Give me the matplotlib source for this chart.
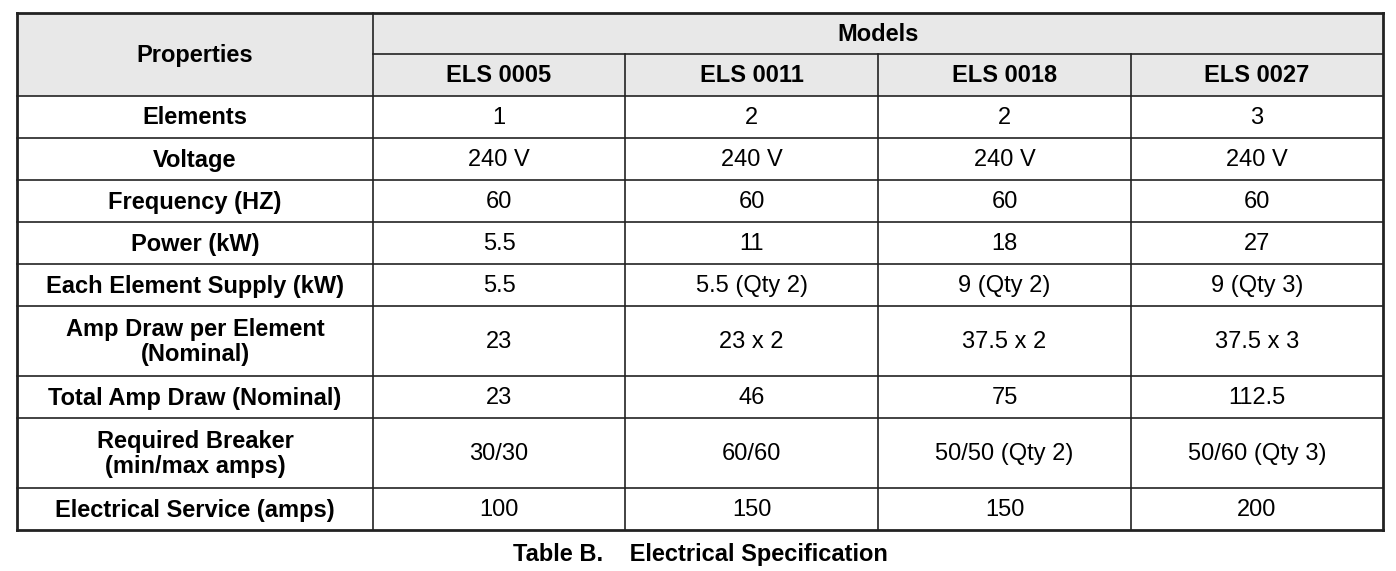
import matplotlib.pyplot as plt

plt.rcParams['font.family'] = ['Liberation Sans', 'DejaVu Sans']

models = ["ELS 0005", "ELS 0011", "ELS 0018", "ELS 0027"]
properties = ["Elements", "Voltage", "Frequency (HZ)", "Power (kW)",
              "Each Element Supply (kW)", "Amp Draw per Element\n(Nominal)",
              "Total Amp Draw (Nominal)", "Required Breaker\n(min/max amps)",
              "Electrical Service (amps)"]
values = [
    ["1", "2", "2", "3"],
    ["240 V", "240 V", "240 V", "240 V"],
    ["60", "60", "60", "60"],
    ["5.5", "11", "18", "27"],
    ["5.5", "5.5 (Qty 2)", "9 (Qty 2)", "9 (Qty 3)"],
    ["23", "23 x 2", "37.5 x 2", "37.5 x 3"],
    ["23", "46", "75", "112.5"],
    ["30/30", "60/60", "50/50 (Qty 2)", "50/60 (Qty 3)"],
    ["100", "150", "150", "200"],
]
caption = "Table B.    Electrical Specification"

# layout in pixels
xs = [17, 373, 625, 878, 1131, 1383]
ys = [13, 54, 96, 138, 180, 222, 264, 306, 376, 418, 488, 530]

fig = plt.figure(figsize=(13.96, 5.71), dpi=100)
ax = fig.add_axes([0, 0, 1, 1])
ax.set_xlim(0, 1396)
ax.set_ylim(571, 0)
ax.axis('off')

fs = 17
ax.fill_between([xs[0], xs[-1]], ys[0], ys[2], color='#e8e8e8', lw=0)

# grid lines
lc = '#222222'
for y in ys:
    if y == ys[1]:
        ax.plot([xs[1], xs[-1]], [y, y], color=lc, lw=1.2)
    else:
        ax.plot([xs[0], xs[-1]], [y, y], color=lc, lw=2 if y in (ys[0], ys[-1]) else 1.2)
for i, x in enumerate(xs):
    if i in (0, 1, len(xs) - 1):
        ax.plot([x, x], [ys[0], ys[-1]], color=lc, lw=2 if i != 1 else 1.2)
    else:
        ax.plot([x, x], [ys[1], ys[-1]], color=lc, lw=1.2)

cx = [(xs[i] + xs[i + 1]) / 2 for i in range(len(xs) - 1)]
ax.text(cx[0], (ys[0] + ys[2]) / 2 + 1, "Properties", ha='center', va='center', fontsize=fs, weight='bold')
ax.text((xs[1] + xs[-1]) / 2, (ys[0] + ys[1]) / 2 + 1, "Models", ha='center', va='center', fontsize=fs, weight='bold')
for j, m in enumerate(models):
    ax.text(cx[j + 1], (ys[1] + ys[2]) / 2 + 1, m, ha='center', va='center', fontsize=fs, weight='bold')

for i, p in enumerate(properties):
    yc = (ys[i + 2] + ys[i + 3]) / 2 + 1
    ax.text(cx[0], yc, p, ha='center', va='center', fontsize=fs, weight='bold', linespacing=1.15)
    for j, v in enumerate(values[i]):
        ax.text(cx[j + 1], yc, v, ha='center', va='center', fontsize=fs)

ax.text(700, 555, caption, ha='center', va='center', fontsize=fs, weight='bold')

fig.savefig('out.png', dpi=100, facecolor='white')
